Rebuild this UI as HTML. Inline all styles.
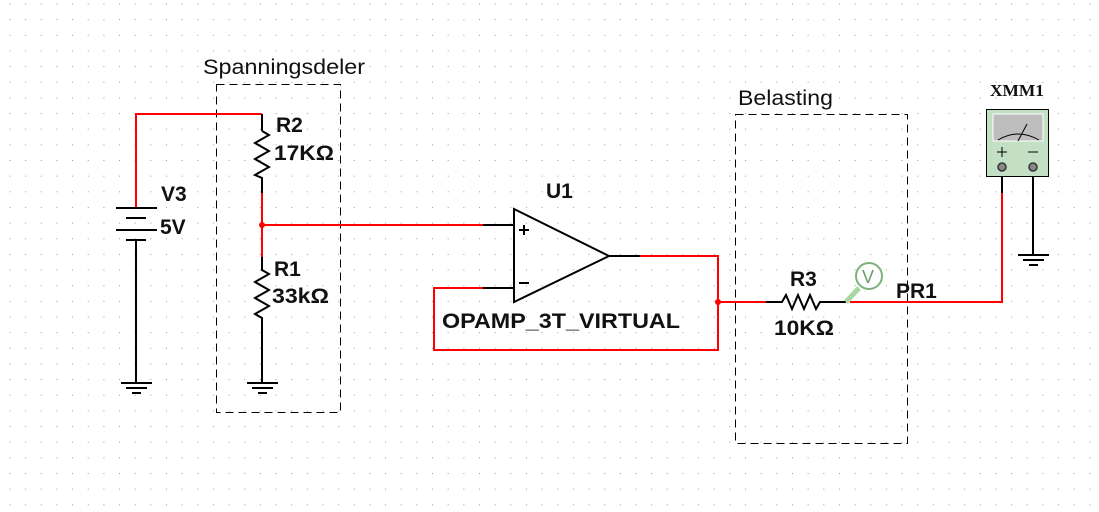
<!DOCTYPE html>
<html><head><meta charset="utf-8"><style>
html,body{margin:0;padding:0;background:#fff;}
svg{display:block;}
text{font-family:"Liberation Sans",sans-serif;}
.b{font-weight:bold;font-size:21px;fill:#111;}
</style></head><body>
<svg width="1099" height="512" viewBox="0 0 1099 512">
<defs><pattern id="g" x="9.5" y="3.5" width="15.65" height="15.65" patternUnits="userSpaceOnUse"><rect width="1" height="1" fill="#999"/></pattern></defs>
<rect width="1099" height="512" fill="url(#g)"/>
<g fill="none" stroke="#000" stroke-width="1" stroke-dasharray="8,5">
<rect x="216.5" y="84.5" width="124" height="328"/>
<rect x="735.5" y="114.5" width="172" height="329"/>
</g>
<text x="203" y="74" font-size="21" fill="#111" textLength="162" lengthAdjust="spacingAndGlyphs">Spanningsdeler</text>
<text x="738" y="105" font-size="21" fill="#111" textLength="95" lengthAdjust="spacingAndGlyphs">Belasting</text>
<g fill="none" stroke="#f00" stroke-width="2">
<polyline points="136,208 136,114 262,114"/>
<polyline points="262,193 262,257"/>
<line x1="262" y1="225" x2="483" y2="225"/>
<polyline points="483,288 434,288 434,350 718,350 718,256 640,256"/>
<line x1="718" y1="302" x2="766" y2="302"/>
<polyline points="850,302 1002,302 1002,193"/>
</g>
<circle cx="262" cy="225" r="3" fill="#f00"/>
<circle cx="718" cy="302" r="3" fill="#f00"/>
<g fill="none" stroke="#000" stroke-width="2">
<line x1="262" y1="114" x2="262" y2="131"/>
<polyline points="262,131 269,135 255,143 269,151 255,159 269,167 255,175 262,178 262,193"/>
<polyline points="262,257 262,270 269,274 255,282 269,290 255,298 269,306 255,314 262,318 262,383"/>
<line x1="116" y1="208" x2="157" y2="208"/>
<line x1="126" y1="218" x2="146" y2="218"/>
<line x1="116" y1="230" x2="157" y2="230"/>
<line x1="126" y1="240" x2="146" y2="240"/>
<line x1="136" y1="240" x2="136" y2="383"/>
<line x1="483" y1="225" x2="514" y2="225"/>
<line x1="483" y1="288" x2="514" y2="288"/>
<line x1="609" y1="256" x2="640" y2="256"/>
<polygon points="514,209 514,302 609,256"/>
<polyline points="766,302 782,302 786,295 792,309 798,295 804,309 810,295 816,309 820,302 846,302"/>
<line x1="1002" y1="193" x2="1002" y2="167"/>
<line x1="1033" y1="167" x2="1033" y2="255"/>
</g>
<g stroke="#000" stroke-width="2">
<line x1="121" y1="383" x2="152" y2="383"/><line x1="126" y1="388" x2="147" y2="388"/><line x1="132" y1="393" x2="141" y2="393"/>
<line x1="247" y1="383" x2="278" y2="383"/><line x1="252" y1="388" x2="273" y2="388"/><line x1="258" y1="393" x2="267" y2="393"/>
<line x1="1018" y1="255" x2="1049" y2="255"/><line x1="1023" y1="260" x2="1044" y2="260"/><line x1="1029" y1="265" x2="1038" y2="265"/>
</g>
<g stroke="#000" stroke-width="2">
<line x1="519" y1="230" x2="529" y2="230"/><line x1="524" y1="225" x2="524" y2="235"/>
<line x1="519" y1="283" x2="529" y2="283"/>
</g>
<circle cx="869" cy="276" r="13" fill="#fff" stroke="#7db27d" stroke-width="2"/>
<text x="862" y="283" font-size="18" fill="#6a9f6a">V</text>
<line x1="846" y1="302" x2="859" y2="288" stroke="#a8d8a0" stroke-width="5"/>
<rect x="986.5" y="109.5" width="62" height="67" fill="#c4e0c4" stroke="#000"/>
<rect x="993" y="114" width="50" height="27" fill="#bdbdbd" stroke="#fff"/>
<path d="M998,140 Q1018,128 1039,140" fill="none" stroke="#000"/>
<line x1="1018" y1="141" x2="1027" y2="124" stroke="#000"/>
<line x1="997" y1="152" x2="1007" y2="152" stroke="#000"/><line x1="1002" y1="147" x2="1002" y2="157" stroke="#000"/>
<line x1="1028" y1="152" x2="1038" y2="152" stroke="#000"/>
<circle cx="1002" cy="167" r="4" fill="#888" stroke="#333" stroke-width="1.5"/>
<circle cx="1033" cy="167" r="4" fill="#888" stroke="#333" stroke-width="1.5"/>
<text x="990" y="96" font-size="17" font-weight="bold" style="font-family:'Liberation Serif',serif" fill="#111" textLength="54" lengthAdjust="spacingAndGlyphs">XMM1</text>
<text class="b" x="276" y="132">R2</text>
<text class="b" x="274" y="160" textLength="60" lengthAdjust="spacingAndGlyphs">17KΩ</text>
<text class="b" x="161" y="201">V3</text>
<text class="b" x="160" y="234">5V</text>
<text class="b" x="274" y="276">R1</text>
<text class="b" x="272" y="303" textLength="57" lengthAdjust="spacingAndGlyphs">33kΩ</text>
<text class="b" x="546" y="198">U1</text>
<text class="b" x="442" y="328" textLength="238" lengthAdjust="spacingAndGlyphs">OPAMP_3T_VIRTUAL</text>
<text class="b" x="790" y="286">R3</text>
<text class="b" x="774" y="335" textLength="60" lengthAdjust="spacingAndGlyphs">10KΩ</text>
<text class="b" x="896" y="298">PR1</text>
</svg>
</body></html>
